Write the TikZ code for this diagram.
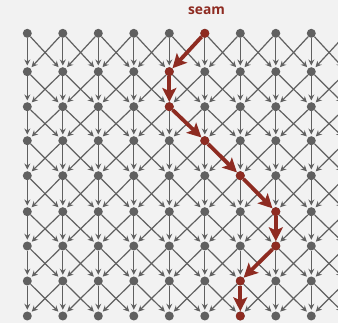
\documentclass[tikz,border=0pt]{standalone}
\usepackage{fontspec}
\setsansfont{Open Sans}
\usetikzlibrary{arrows.meta}
\definecolor{seamred}{HTML}{8E2B21}
\definecolor{dotgray}{HTML}{606060}
\definecolor{bggray}{HTML}{F2F2F2}
\begin{document}
\begin{tikzpicture}[x=1pt, y=-1pt,
    px/.style={circle, fill=dotgray, inner sep=0pt, minimum size=9pt},
    seampx/.style={px, fill=seamred},
    edge/.style={draw=dotgray, line width=1.2pt, shorten >=1.5pt,
      -{Stealth[length=6pt, width=6pt, inset=2pt]}},
    seamedge/.style={draw=seamred, line width=3.8pt,
      -{Stealth[length=14pt, width=14pt, inset=3pt]}}]
    % Tło
    \fill[bggray] (0,0) rectangle (338,323);
    \useasboundingbox (0,0) rectangle (338,323);
    \clip (0,0) rectangle (338,323);

    % Piksele
    \foreach \y [count=\r from 0] in {33.3,71.7,106.7,140.7,175.7,211.7,246,281,316}
        \foreach \c in {0,...,9}
            \node[px] (p\c-\r) at ({27.3+35.5*\c},\y) {};

    % Krawędzie (w dół, w lewo-dół, w prawo-dół)
    \foreach \r [evaluate=\r as \nr using int(\r+1)] in {0,...,7} {
        \foreach \c [evaluate=\c as \cL using int(\c-1),
                     evaluate=\c as \cR using int(\c+1)] in {0,...,9} {
            \draw[edge] (p\c-\r) -- (p\c-\nr);
            \ifnum\c>0 \draw[edge] (p\c-\r) -- (p\cL-\nr); \fi
            \ifnum\c<9 \draw[edge] (p\c-\r) -- (p\cR-\nr); \fi
        }
    }

    % Szew
    \foreach \c/\r in {5/0,4/1,4/2,5/3,6/4,7/5,7/6,6/7,6/8}
        \node[seampx] at (p\c-\r) {};
    \draw[seamedge] (p5-0) -- (p4-1);
    \draw[seamedge] (p4-1) -- (p4-2);
    \draw[seamedge] (p4-2) -- (p5-3);
    \draw[seamedge] (p5-3) -- (p6-4);
    \draw[seamedge] (p6-4) -- (p7-5);
    \draw[seamedge] (p7-5) -- (p7-6);
    \draw[seamedge] (p7-6) -- (p6-7);
    \draw[seamedge] (p6-7) -- (p6-8);

    \node[anchor=base, text=seamred, font=\sffamily\bfseries\fontsize{13.8}{16}\selectfont]
        (label) at (206.5,14.2) {seam};
\end{tikzpicture}
\end{document}
